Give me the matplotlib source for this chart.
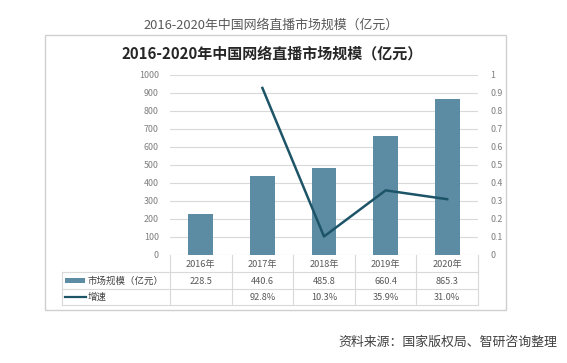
import matplotlib
matplotlib.use("Agg")
import matplotlib.pyplot as plt
from matplotlib.patches import Rectangle
from matplotlib.lines import Line2D
import matplotlib.transforms as mtransforms

plt.rcParams['font.family'] = ['Noto Sans CJK SC', 'DejaVu Sans']

categories = ["2016年", "2017年", "2018年", "2019年", "2020年"]
market_size = [228.5, 440.6, 485.8, 660.4, 865.3]
growth = [None, 0.928, 0.103, 0.359, 0.310]
size_labels = ["228.5", "440.6", "485.8", "660.4", "865.3"]
growth_labels = ["", "92.8%", "10.3%", "35.9%", "31.0%"]
left_ticks = [0, 100, 200, 300, 400, 500, 600, 700, 800, 900, 1000]
right_ticks = [0, 0.1, 0.2, 0.3, 0.4, 0.5, 0.6, 0.7, 0.8, 0.9, 1]
series_names = ["市场规模（亿元）", "增速"]
outer_title = "2016-2020年中国网络直播市场规模（亿元）"
inner_title = "2016-2020年中国网络直播市场规模（亿元）"
source = "资料来源：国家版权局、智研咨询整理"

W, H = 567, 363
fig = plt.figure(figsize=(W / 100, H / 100), dpi=100)
fig.patch.set_facecolor("white")

def fx(px):
    return px / W

def fy(py):
    return 1 - py / H

bar_color = "#5B8CA3"
line_color = "#1D5468"
grid_color = "#D9D9D9"
text_gray = "#595959"
tick_gray = "#7F7F7F"

# chart frame box
box = Rectangle((fx(45), fy(310)), fx(506) - fx(45), fy(35) - fy(310),
                transform=fig.transFigure, facecolor="white",
                edgecolor="#D0D0D0", lw=1.0, zorder=-5)
fig.patches.append(box)

fig.text(fx(271.5), fy(25), outer_title, ha="center", va="center",
         fontsize=9.3, color=text_gray)
fig.text(fx(272), fy(54), inner_title, ha="center", va="center",
         fontsize=10.8, fontweight="bold", color="#262626")
fig.text(fx(557), fy(342), source, ha="right", va="center",
         fontsize=9.3, color="#404040")

left, right, top, bottom = 170, 478, 75, 255
ax = fig.add_axes([fx(left), fy(bottom), fx(right) - fx(left), fy(top) - fy(bottom)])
ax.set_facecolor("none")
ax.set_zorder(2)
x = list(range(len(categories)))
ax.bar(x, market_size, width=0.4, color=bar_color, zorder=2)
ax.set_xlim(-0.5, len(categories) - 0.5)
ax.set_ylim(0, 1000)
ax.set_yticks(left_ticks)
ax.set_yticklabels([str(t) for t in left_ticks])
ax.yaxis.grid(True, color=grid_color, lw=0.8, zorder=0)
ax.set_axisbelow(True)
for s in ax.spines.values():
    s.set_visible(False)
ax.tick_params(axis="y", length=0, pad=8, labelsize=6.4, labelcolor=tick_gray)
ax.set_xticks([])

ax2 = ax.twinx()
ax2.set_zorder(3)
ax2.set_facecolor("none")
gx = [i for i, g in zip(x, growth) if g is not None]
gy = [g for g in growth if g is not None]
ax2.plot(gx, gy, color=line_color, lw=1.8, zorder=3)
ax2.set_ylim(0, 1)
ax2.set_yticks(right_ticks)
ax2.set_yticklabels([f"{t:g}" for t in right_ticks])
for s in ax2.spines.values():
    s.set_visible(False)
ax2.tick_params(axis="y", length=0, pad=9, labelsize=6.4, labelcolor=tick_gray)

# data table below the plot
trans = mtransforms.blended_transform_factory(ax.transData, fig.transFigure)
table_line_kw = dict(color=grid_color, lw=0.8, transform=fig.transFigure)
for yy in (272, 289, 305):
    fig.add_artist(Line2D([fx(62), fx(right)], [fy(yy), fy(yy)], **table_line_kw))
fig.add_artist(Line2D([fx(62), fx(62)], [fy(272), fy(305)], **table_line_kw))
for i in range(len(categories) + 1):
    fig.add_artist(Line2D([i - 0.5, i - 0.5], [fy(255), fy(305)],
                          color=grid_color, lw=0.8, transform=trans))

for i, (c, s, g) in enumerate(zip(categories, size_labels, growth_labels)):
    fig.text(i, fy(264), c, transform=trans, ha="center", va="center",
             fontsize=6.6, color=text_gray)
    fig.text(i, fy(281), s, transform=trans, ha="center", va="center",
             fontsize=6.6, color=text_gray)
    fig.text(i, fy(297), g, transform=trans, ha="center", va="center",
             fontsize=6.6, color=text_gray)

# legend keys inside table
fig.patches.append(Rectangle((fx(65), fy(283)), fx(85) - fx(65), fy(278) - fy(283),
                             transform=fig.transFigure, facecolor=bar_color,
                             edgecolor="none"))
fig.add_artist(Line2D([fx(65), fx(86)], [fy(297), fy(297)], color=line_color,
                      lw=1.6, transform=fig.transFigure))
fig.text(fx(88), fy(281), series_names[0], ha="left", va="center",
         fontsize=6.8, color="#404040")
fig.text(fx(88), fy(297), series_names[1], ha="left", va="center",
         fontsize=6.8, color="#404040")

fig.savefig("out.png", dpi=100, facecolor="white")
